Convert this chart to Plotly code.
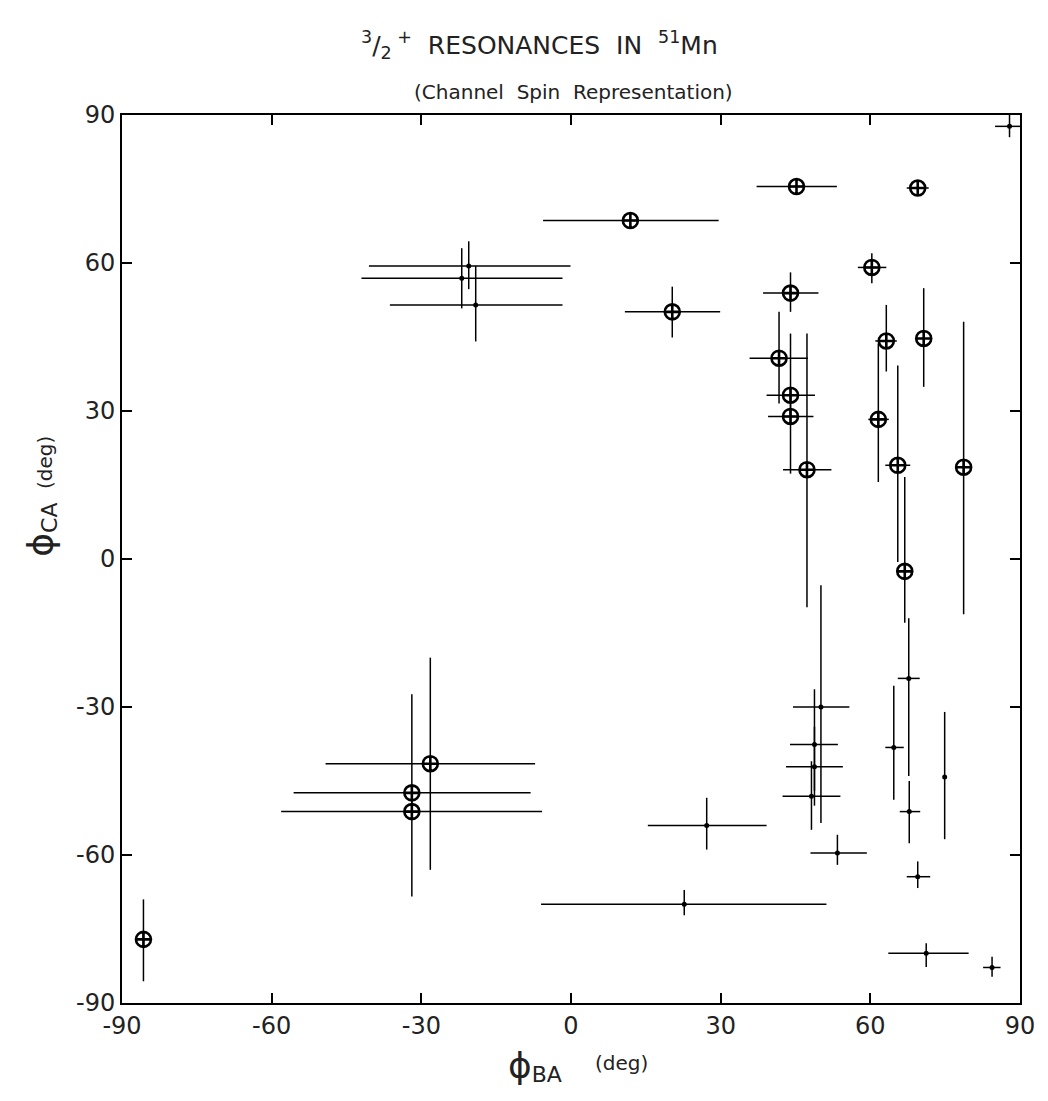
import plotly.graph_objects as go

# ---- Resonances drawn with circled-cross markers ----
circ_x    = [11.9, 20.3, 45.2, 69.5, 60.3, 44.0, 41.7, 44.0, 44.0, 47.3, 63.2, 70.7, 61.6, 65.5, 78.7, 66.9, -28.2, -31.9, -31.9, -85.7]
circ_y    = [68.6, 50.1, 75.5, 75.2, 59.1, 53.9, 40.7, 33.2, 28.9, 18.1, 44.2, 44.7, 28.3, 19.0, 18.6, -2.5, -41.5, -47.4, -51.2, -77.1]
circ_xlo  = [-5.6, 10.8, 37.2, 67.3, 57.5, 38.5, 35.8, 39.2, 39.5, 42.5, 61.0, 70.7, 59.6, 63.0, 78.7, 66.9, -49.2, -55.6, -58.1, -85.7]
circ_xhi  = [29.6, 29.9, 53.3, 71.7, 63.2, 49.6, 47.5, 48.9, 48.6, 52.2, 65.3, 70.7, 63.7, 68.0, 78.7, 66.9, -7.2, -8.1, -5.8, -85.7]
circ_ylo  = [68.6, 44.9, 75.5, 75.2, 55.9, 50.1, 31.5, 29.0, 17.3, -9.8, 38.0, 34.9, 15.6, -0.6, -11.2, -12.9, -63.0, -51.0, -68.4, -85.6]
circ_yhi  = [68.6, 55.2, 75.5, 75.2, 62.0, 58.1, 50.1, 45.7, 33.0, 45.7, 51.5, 54.9, 43.7, 39.2, 48.1, 16.6, -20.0, -27.4, -47.0, -69.0]

# ---- Resonances drawn as small dots ----
dot_x   = [-20.5, -21.9, -19.1, 87.9, 50.1, 48.8, 48.8, 48.2, 64.7, 67.7, 74.9, 67.8, 27.2, 53.4, 69.5, 22.7, 71.2, 84.4]
dot_y   = [59.4, 56.9, 51.5, 87.7, -30.0, -37.6, -42.1, -48.1, -38.2, -24.2, -44.2, -51.2, -54.0, -59.6, -64.4, -70.0, -79.9, -82.8]
dot_xlo = [-40.5, -42.0, -36.3, 85.0, 44.5, 43.9, 43.1, 42.4, 63.0, 65.5, 74.9, 65.9, 15.4, 48.0, 67.3, -6.0, 63.6, 82.6]
dot_xhi = [-0.1, -1.7, -1.7, 90.4, 55.8, 53.5, 54.5, 54.0, 66.7, 69.9, 74.9, 70.0, 39.2, 59.3, 72.0, 51.2, 79.7, 86.1]
dot_ylo = [54.7, 50.8, 44.1, 85.5, -53.5, -47.0, -50.0, -54.9, -48.8, -44.0, -56.8, -57.6, -58.9, -62.0, -66.7, -72.2, -82.7, -84.7]
dot_yhi = [64.4, 63.0, 59.4, 90.1, -5.3, -26.4, -34.0, -41.0, -25.7, -12.0, -31.0, -45.0, -48.4, -55.9, -61.3, -67.1, -77.9, -80.6]

tick_vals = [-90, -60, -30, 0, 30, 60, 90]
tick_text = ["-90", "-60", "-30", "0", "30", "60", "90"]


def errs(c, lo, hi):
    plus = [h - v for v, h in zip(c, hi)]
    minus = [v - l for v, l in zip(c, lo)]
    return plus, minus


fig = go.Figure()

for xs, ys, xlo, xhi, ylo, yhi, marker in [
    (dot_x, dot_y, dot_xlo, dot_xhi, dot_ylo, dot_yhi,
     dict(symbol="circle", size=5, color="black")),
    (circ_x, circ_y, circ_xlo, circ_xhi, circ_ylo, circ_yhi,
     dict(symbol="circle-cross-open", size=15, color="black", line=dict(width=2.6, color="black"))),
]:
    xp, xm = errs(xs, xlo, xhi)
    yp, ym = errs(ys, ylo, yhi)
    fig.add_trace(go.Scatter(
        x=xs, y=ys, mode="markers", marker=marker,
        error_x=dict(type="data", symmetric=False, array=xp, arrayminus=xm,
                     color="black", thickness=1.5, width=0),
        error_y=dict(type="data", symmetric=False, array=yp, arrayminus=ym,
                     color="black", thickness=1.5, width=0),
        showlegend=False, cliponaxis=False,
    ))

axis_common = dict(
    range=[-90, 90], tickvals=tick_vals, ticktext=tick_text,
    ticks="inside", ticklen=10, tickwidth=1.5, tickcolor="black",
    showline=True, linecolor="black", linewidth=2, mirror="ticks",
    showgrid=False, zeroline=False,
    tickfont=dict(family="DejaVu Sans", size=24, color="#222"),
)

lab_font = dict(family="DejaVu Sans", size=20, color="#222")

fig.update_layout(
    width=1048, height=1101,
    margin=dict(l=122, r=28, t=115, b=98),
    paper_bgcolor="white", plot_bgcolor="white",
    xaxis=dict(**axis_common),
    yaxis=dict(**axis_common),
    font=dict(family="DejaVu Sans", color="#222"),
    annotations=[
        dict(text="<sup>3</sup>/<sub>2</sub><sup> +</sup>  RESONANCES  IN  <sup>51</sup>Mn",
             x=0.5, y=1.0, xref="paper", yref="paper", xanchor="center", yanchor="bottom",
             yshift=50, xshift=-32, showarrow=False,
             font=dict(family="DejaVu Sans", size=25, color="#222")),
        dict(text="(Channel  Spin  Representation)",
             x=0.5, y=1.0, xref="paper", yref="paper", xanchor="center", yanchor="bottom",
             yshift=9, xshift=2, showarrow=False, font=lab_font),
        # x-axis label
        dict(text="<span style='font-size:36px'>ϕ</span><sub><span style='font-size:22px'>BA</span></sub>",
             x=0.46, y=0.0, xref="paper", yref="paper", xanchor="center", yanchor="top",
             yshift=-40, showarrow=False, font=lab_font),
        dict(text="(deg)",
             x=0.5557, y=0.0, xref="paper", yref="paper", xanchor="center", yanchor="middle",
             yshift=-60, showarrow=False, font=lab_font),
        # y-axis label
        dict(text="<span style='font-size:36px'>ϕ</span><sub><span style='font-size:22px'>CA</span></sub>",
             x=0.0, y=0.533, xref="paper", yref="paper", xanchor="right", yanchor="middle",
             xshift=-58, textangle=-90, showarrow=False, font=lab_font),
        dict(text="(deg)",
             x=0.0, y=0.608, xref="paper", yref="paper", xanchor="center", yanchor="middle",
             xshift=-77, textangle=-90, showarrow=False, font=lab_font),
    ],
)

fig.write_html("out.html")
